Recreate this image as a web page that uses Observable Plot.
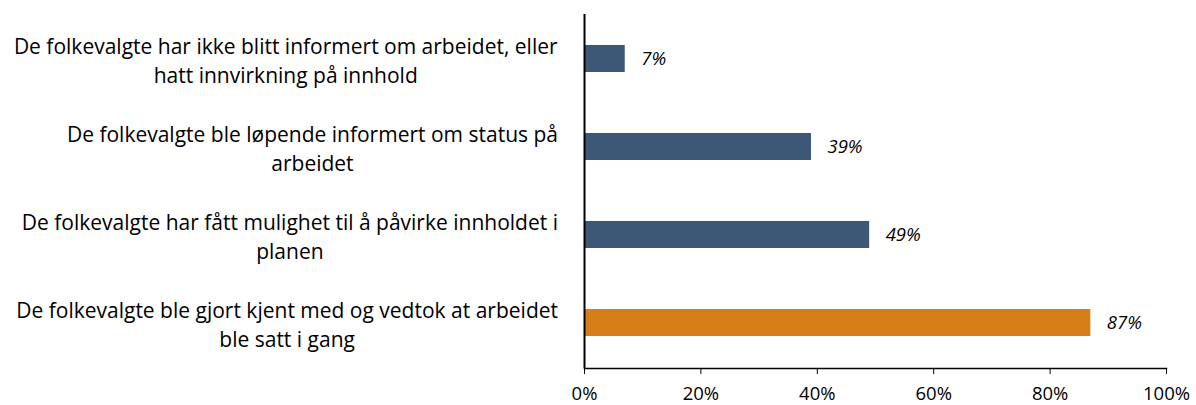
<!DOCTYPE html>
<html><head><meta charset="utf-8">
<script src="https://cdn.jsdelivr.net/npm/d3@7"></script>
<script src="https://cdn.jsdelivr.net/npm/@observablehq/plot@0.6"></script>
<style>body{margin:0;background:#fff;}</style>
</head><body><div id="chart"></div>
<script>
const categories = [
  "De folkevalgte har ikke blitt informert om arbeidet, eller\nhatt innvirkning på innhold",
  "De folkevalgte ble løpende informert om status på\narbeidet",
  "De folkevalgte har fått mulighet til å påvirke innholdet i\nplanen",
  "De folkevalgte ble gjort kjent med og vedtok at arbeidet\nble satt i gang"
];
const values = [0.07, 0.39, 0.49, 0.87];
const barColors = ["#3C5876", "#3C5876", "#3C5876", "#D67F19"];
const xTicks = [0, 0.2, 0.4, 0.6, 0.8, 1];

const fontFamily = "'Open Sans', Lato, sans-serif";
const data = categories.map((c, i) => ({cat: c, value: values[i], color: barColors[i]}));
const pct = v => Math.round(v * 100) + "%";

const chart = Plot.plot({
  width: 1196, height: 405,
  marginTop: 14, marginBottom: 37, marginLeft: 584, marginRight: 30,
  style: {fontFamily, fontSize: "18.5px", color: "#000", background: "#fff"},
  x: {domain: [0, 1], ticks: xTicks, tickFormat: pct, label: null, tickSize: 6, tickPadding: 12},
  y: {domain: categories, paddingInner: 0.69, paddingOuter: 0.355, axis: null},
  color: {type: "identity"},
  marks: [
    Plot.barX(data, {x: "value", y: "cat", fill: "color"}),
    Plot.text(data, {x: "value", y: "cat", text: d => pct(d.value), textAnchor: "start", dx: 16, fontStyle: "italic", fill: "#000"}),
    Plot.text(data, {y: "cat", text: "cat", frameAnchor: "left", textAnchor: "middle", lineHeight: 1.37, fontSize: 21, fill: "#000", className: "catlabel"}),
    Plot.frame({anchor: "bottom", stroke: "#000", strokeWidth: 1.5}),
    Plot.ruleX([0], {stroke: "#000", strokeWidth: 2})
  ]
});
document.getElementById("chart").append(chart);
const rightEdge = 584 - 26;
chart.querySelectorAll(".catlabel text").forEach(el => {
  const r = el.getBoundingClientRect();
  const cx = r.left + r.width / 2;
  const shift = rightEdge - r.width / 2 - cx;
  el.setAttribute("transform", `translate(${shift},0) ` + (el.getAttribute("transform") || ""));
});
</script>
</body></html>
